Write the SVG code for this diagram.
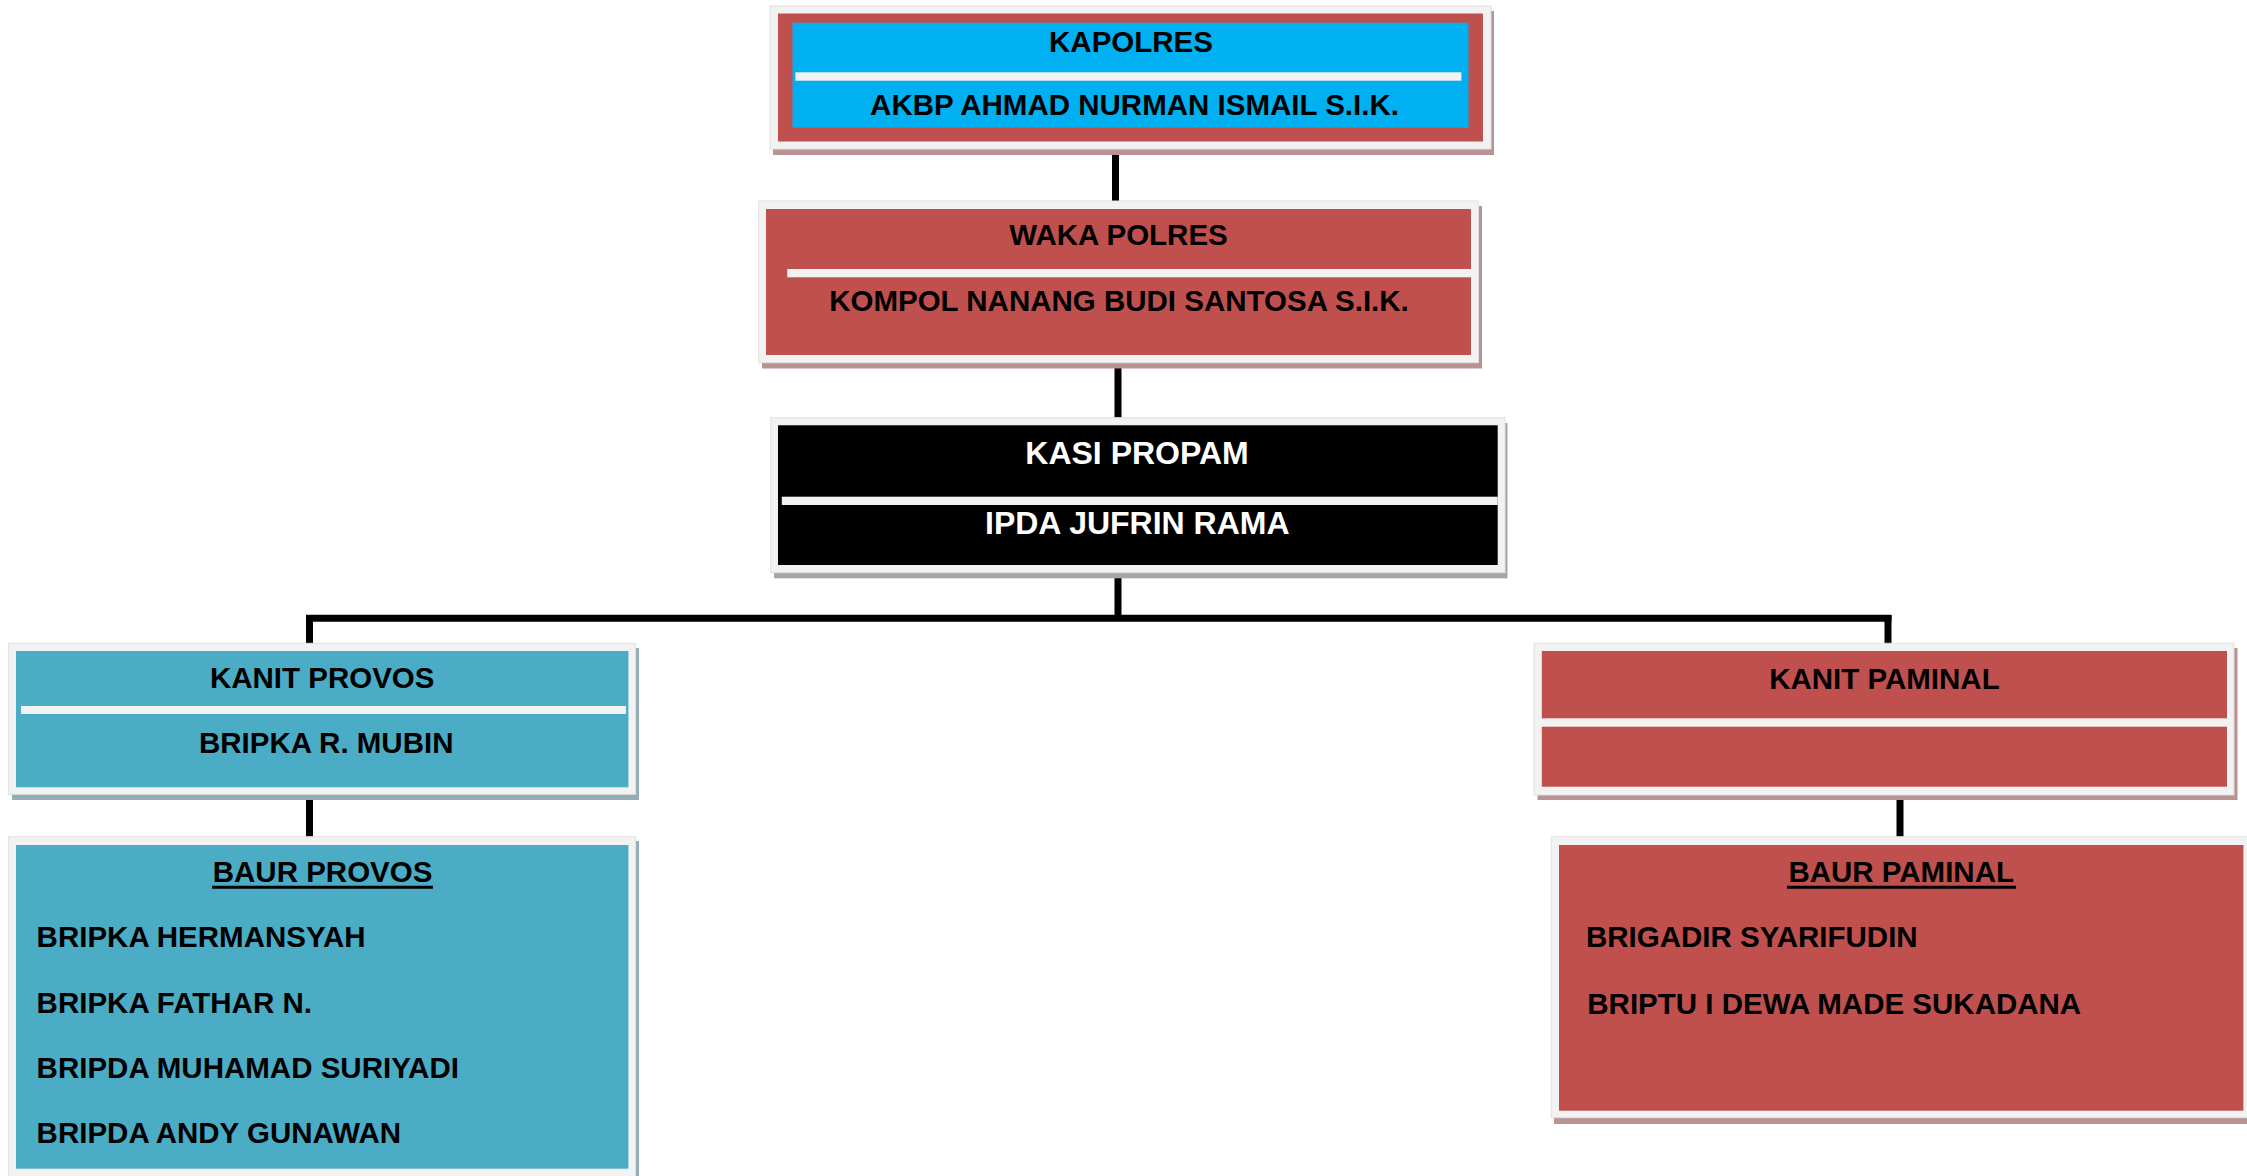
<svg xmlns="http://www.w3.org/2000/svg" width="2247" height="1176" viewBox="0 0 2247 1176">
<style>
  .frame{fill:#f2f2f2;stroke:#e0e0e0;stroke-width:1}
  .div{fill:#f2f2f2}
  .t{font-family:"Liberation Sans",Arial,sans-serif;font-weight:bold;font-size:29.5px;fill:#000}
  .c{text-anchor:middle}
  .w{fill:#fff;font-size:32px}
  .conn{stroke:#000;stroke-width:7;fill:none;stroke-linecap:butt}
  .ul{stroke:#000;stroke-width:3}
</style>
<rect width="2247" height="1176" fill="#fff"/>
<g id="connectors">
  <line class="conn" x1="1115.5" y1="145" x2="1115.5" y2="205"/>
  <line class="conn" x1="1118" y1="360" x2="1118" y2="422"/>
  <line class="conn" x1="1118" y1="568" x2="1118" y2="618"/>
  <line class="conn" x1="306" y1="618.3" x2="1891.5" y2="618.3"/>
  <line class="conn" x1="309.5" y1="615" x2="309.5" y2="646"/>
  <line class="conn" x1="1888" y1="615" x2="1888" y2="646"/>
  <line class="conn" x1="309.5" y1="795" x2="309.5" y2="840"/>
  <line class="conn" x1="1900" y1="790" x2="1900" y2="840"/>
</g>
<g id="kapolres">
  <rect x="773" y="11" width="721" height="144" fill="#b89392"/>
  <rect class="frame" x="770" y="6" width="721" height="143"/>
  <rect x="778" y="13.5" width="705" height="128" fill="#c0504d"/>
  <rect x="792.5" y="22.7" width="676" height="105" fill="#00b0f0"/>
  <rect class="div" x="795.4" y="72.3" width="666" height="8.4"/>
  <text class="t c" x="1131" y="51.7">KAPOLRES</text>
  <text class="t c" x="1134.5" y="115">AKBP AHMAD NURMAN ISMAIL S.I.K.</text>
</g>
<g id="waka-polres">
  <rect x="762" y="206" width="720" height="162.5" fill="#b89392"/>
  <rect class="frame" x="758.7" y="201" width="719.8" height="161.7"/>
  <rect x="766" y="209" width="705" height="146" fill="#c0504d"/>
  <rect class="div" x="787.3" y="269" width="683.7" height="8.3"/>
  <text class="t c" x="1118.5" y="245">WAKA POLRES</text>
  <text class="t c" x="1119" y="310.7">KOMPOL NANANG BUDI SANTOSA S.I.K.</text>
</g>
<g id="kasi-propam">
  <rect x="774" y="423" width="733.5" height="155.3" fill="#a6a6a6"/>
  <rect class="frame" x="770.7" y="417.7" width="734.3" height="155"/>
  <rect x="778" y="425.3" width="719.7" height="139.7" fill="#000"/>
  <rect class="div" x="781.8" y="496.7" width="715.9" height="8.3"/>
  <text class="t c w" x="1137" y="464.3">KASI PROPAM</text>
  <text class="t c w" x="1137.3" y="534">IPDA JUFRIN RAMA</text>
</g>
<g id="kanit-provos">
  <rect x="12" y="648" width="627" height="152" fill="#93adb6"/>
  <rect class="frame" x="8.4" y="643.3" width="627.2" height="151"/>
  <rect x="16" y="651" width="612.4" height="136.3" fill="#4bacc6"/>
  <rect class="div" x="21" y="706" width="605" height="8"/>
  <text class="t c" x="322.2" y="688.3">KANIT PROVOS</text>
  <text class="t c" x="326.2" y="753.3">BRIPKA R. MUBIN</text>
</g>
<g id="kanit-paminal">
  <rect x="1537.5" y="648" width="700" height="152" fill="#b89392"/>
  <rect class="frame" x="1534" y="643.3" width="700" height="151.7"/>
  <rect x="1541.8" y="651" width="685.2" height="67.3" fill="#c0504d"/>
  <rect x="1541.8" y="726.7" width="685.2" height="60" fill="#c0504d"/>
  <text class="t c" x="1884.4" y="689">KANIT PAMINAL</text>
</g>
<g id="baur-provos">
  <rect x="12" y="841" width="627" height="340" fill="#93adb6"/>
  <rect class="frame" x="8.4" y="836.7" width="627.2" height="345"/>
  <rect x="16" y="845" width="612.4" height="323.7" fill="#4bacc6"/>
  <text class="t c" x="322.6" y="881.7">BAUR PROVOS</text>
  <line class="ul" x1="212" y1="887.3" x2="433" y2="887.3"/>
  <text class="t" x="36.6" y="946.7">BRIPKA HERMANSYAH</text>
  <text class="t" x="36.6" y="1012.7">BRIPKA FATHAR N.</text>
  <text class="t" x="36.6" y="1078.3">BRIPDA MUHAMAD SURIYADI</text>
  <text class="t" x="36.6" y="1143.3">BRIPDA ANDY GUNAWAN</text>
</g>
<g id="baur-paminal">
  <rect x="1554" y="842" width="700" height="282" fill="#b89392"/>
  <rect class="frame" x="1551.3" y="836.7" width="700" height="281"/>
  <rect x="1559" y="845" width="684.4" height="265.7" fill="#c0504d"/>
  <text class="t c" x="1901.2" y="881.7">BAUR PAMINAL</text>
  <line class="ul" x1="1787" y1="887.3" x2="2016" y2="887.3"/>
  <text class="t" x="1586" y="946.7">BRIGADIR SYARIFUDIN</text>
  <text class="t" x="1587.3" y="1014">BRIPTU I DEWA MADE SUKADANA</text>
</g>
</svg>
